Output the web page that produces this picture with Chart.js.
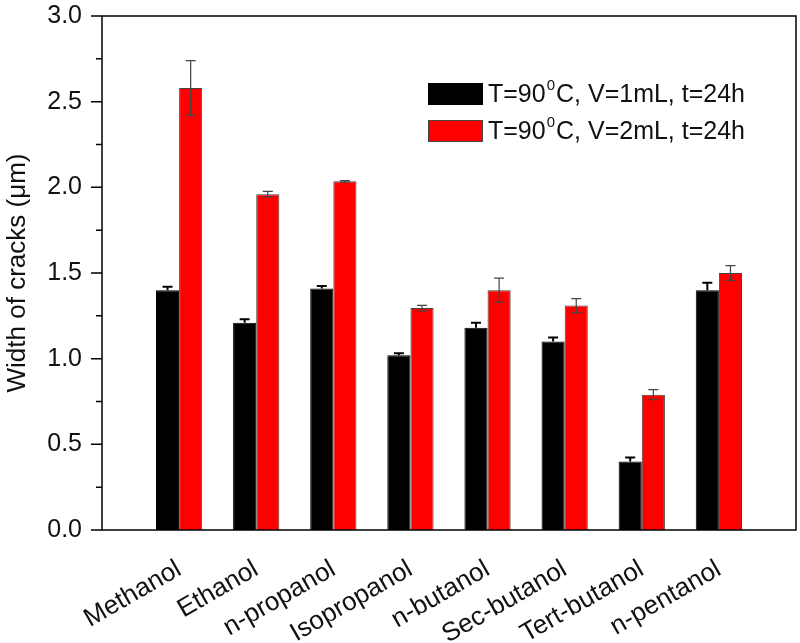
<!DOCTYPE html>
<html>
<head>
<meta charset="utf-8">
<script src="https://cdn.jsdelivr.net/npm/chart.js@4.4.0/dist/chart.umd.min.js"></script>
<style>
  html, body { margin: 0; padding: 0; background: #fff; }
  #wrap { width: 800px; height: 643px; }
</style>
</head>
<body>
<div id="wrap"><canvas id="graphe" width="800" height="643"></canvas></div>
<script>
// --- DONNÉES ---
const solvants = ['Methanol', 'Ethanol', 'n-propanol', 'Isopropanol', 'n-butanol', 'Sec-butanol', 'Tert-butanol', 'n-pentanol'];
const legende1 = ['T=90', '0', 'C, V=1mL, t=24h'];
const legende2 = ['T=90', '0', 'C, V=2mL, t=24h'];
const largeur1mL = [1.40, 1.21, 1.41, 1.02, 1.18, 1.10, 0.40, 1.40];
const erreur1mL  = [0.02, 0.02, 0.014, 0.012, 0.029, 0.023, 0.023, 0.043];
const largeur2mL = [2.58, 1.96, 2.035, 1.295, 1.40, 1.31, 0.79, 1.50];
const erreur2mL  = [0.16, 0.016, 0.005, 0.016, 0.07, 0.041, 0.029, 0.043];
const yTicks = [0, 0.5, 1.0, 1.5, 2.0, 2.5, 3.0];
const yMinorTicks = [0.25, 0.75, 1.25, 1.75, 2.25, 2.75];

const POLICE = "'Liberation Sans', Arial, sans-serif";

// points {x, y} sur un axe linéaire : les groupes sont en 1..8
const pts = (arr) => arr.map((v, i) => ({ x: i + 1, y: v }));

// --- BARRES D'ERREUR + CADRE + GRADUATIONS ---
const pluginErreurs = {
    id: 'erreurs',
    afterDatasetsDraw(chart) {
        const ctx = chart.ctx;
        const ys = chart.scales.y;
        const errs = [erreur1mL, erreur2mL];
        chart.data.datasets.forEach((ds, d) => {
            const meta = chart.getDatasetMeta(d);
            meta.data.forEach((bar, i) => {
                const v = ds.data[i].y;
                const e = errs[d][i];
                const yHaut = ys.getPixelForValue(v + e);
                const yBas = ys.getPixelForValue(v - e);
                ctx.save();
                if (d === 0) {
                    ctx.strokeStyle = '#000';
                    ctx.lineWidth = 2;
                    ctx.beginPath();
                    ctx.moveTo(bar.x, bar.y); ctx.lineTo(bar.x, yHaut);
                    ctx.moveTo(bar.x - 5, yHaut); ctx.lineTo(bar.x + 5, yHaut);
                    ctx.stroke();
                } else {
                    ctx.strokeStyle = '#444';
                    ctx.lineWidth = 1.2;
                    ctx.beginPath();
                    ctx.moveTo(bar.x, yBas); ctx.lineTo(bar.x, yHaut);
                    ctx.moveTo(bar.x - 5, yHaut); ctx.lineTo(bar.x + 5, yHaut);
                    ctx.moveTo(bar.x - 5, yBas); ctx.lineTo(bar.x + 5, yBas);
                    ctx.stroke();
                }
                ctx.restore();
            });
        });
    },
    afterDraw(chart) {
        const ctx = chart.ctx;
        const a = chart.chartArea;
        const ys = chart.scales.y;
        ctx.save();
        ctx.strokeStyle = '#000';
        ctx.lineWidth = 1.5;
        ctx.strokeRect(a.left, a.top, a.right - a.left, a.bottom - a.top);
        ctx.beginPath();
        yTicks.forEach(t => { const y = ys.getPixelForValue(t); ctx.moveTo(a.left - 11, y); ctx.lineTo(a.left, y); });
        yMinorTicks.forEach(t => { const y = ys.getPixelForValue(t); ctx.moveTo(a.left - 6, y); ctx.lineTo(a.left, y); });
        ctx.stroke();

        // légende dans la zone du graphe
        const lignes = [[legende1, '#000000', '#000'], [legende2, '#ff0000', '#444']];
        lignes.forEach((l, k) => {
            const bx = a.right - 368, by = a.top + 67 + k * 37;
            ctx.fillStyle = l[1];
            ctx.fillRect(bx, by, 55, 22);
            ctx.strokeStyle = l[2];
            ctx.lineWidth = 1;
            ctx.strokeRect(bx + 0.5, by + 0.5, 54, 21);
            ctx.fillStyle = '#111';
            ctx.textBaseline = 'middle';
            ctx.textAlign = 'left';
            let x = bx + 60;
            const yc = by + 12;
            ctx.font = '25px ' + POLICE;
            ctx.fillText(l[0][0], x, yc);
            x += ctx.measureText(l[0][0]).width + 1;
            ctx.font = '15px ' + POLICE;
            ctx.fillText(l[0][1], x, yc - 9);
            x += ctx.measureText(l[0][1]).width + 1;
            ctx.font = '25px ' + POLICE;
            ctx.fillText(l[0][2], x, yc);
        });
        ctx.restore();
    }
};

const graphe = new Chart(document.getElementById('graphe'), {
    type: 'bar',
    data: {
        datasets: [
            { label: legende1.join(''), data: pts(largeur1mL), backgroundColor: '#000000', borderColor: '#000', borderWidth: 1 },
            { label: legende2.join(''), data: pts(largeur2mL), backgroundColor: '#ff0000', borderColor: '#444', borderWidth: 1 }
        ]
    },
    options: {
        responsive: false,
        animation: false,
        layout: { padding: { top: 16, right: 4, left: 0, bottom: 0 } },
        datasets: { bar: { categoryPercentage: 0.6, barPercentage: 1.0 } },
        plugins: { legend: { display: false }, tooltip: { enabled: false } },
        scales: {
            x: {
                type: 'linear',
                offset: false,
                min: 0, max: 9,
                grid: { display: false, drawTicks: false },
                border: { display: false },
                afterFit: (s) => { s.height = 113; s.paddingLeft = 0; s.paddingRight = 0; },
                ticks: {
                    stepSize: 1, autoSkip: false, minRotation: 30, maxRotation: 30,
                    padding: 24,
                    color: '#111',
                    font: { family: POLICE, size: 26 },
                    callback: (v) => (v >= 1 && v <= 8 ? solvants[v - 1] : '')
                }
            },
            y: {
                min: 0, max: 3,
                grid: { display: false, drawTicks: false },
                border: { display: false },
                afterFit: (s) => { s.width = 102; s.paddingTop = 0; s.paddingBottom = 0; },
                ticks: {
                    stepSize: 0.5, padding: 20,
                    color: '#111',
                    font: { family: POLICE, size: 25 },
                    callback: (v) => v.toFixed(1)
                },
                title: {
                    display: true, text: 'Width of cracks (\u03bcm)',
                    color: '#111',
                    font: { family: POLICE, size: 26 },
                    padding: { top: 2, bottom: 2 }
                }
            }
        }
    },
    plugins: [pluginErreurs]
});
</script>
</body>
</html>
